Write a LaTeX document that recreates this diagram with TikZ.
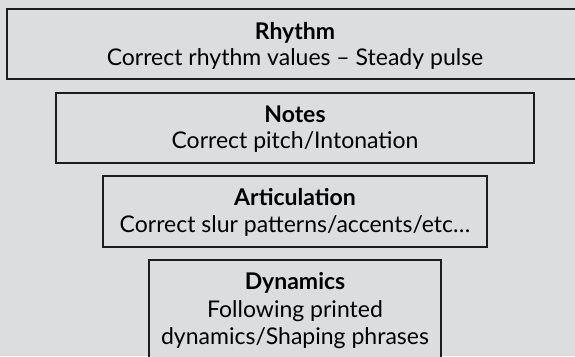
\documentclass[tikz,border=0pt]{standalone}
\usepackage{fontspec}
\setmainfont{Lato}
\definecolor{bg}{RGB}{220,221,222}
\definecolor{edge}{RGB}{28,28,28}
\begin{document}
\begin{tikzpicture}[x=1pt,y=-1pt,
  panel/.style={draw=edge, line width=1.2pt, fill=bg, inner sep=0pt},
  head/.style={anchor=base, inner sep=0pt, font=\fontsize{23}{26}\selectfont\bfseries},
  body/.style={anchor=base, inner sep=0pt, font=\fontsize{23}{26}\selectfont}]
% page background and fixed frame
\fill[bg] (0,0) rectangle (575,356);
\useasboundingbox (0,0) rectangle (575,356);

% Stacked boxes, narrowing downward
\node[panel, minimum width=576pt, minimum height=70pt] (rhythm) at (295,44) {};
\node[panel, minimum width=478pt, minimum height=70pt] (notes) at (295,128) {};
\node[panel, minimum width=384pt, minimum height=71pt] (artic) at (295,211.5) {};
\node[panel, minimum width=292pt, minimum height=110pt] (dyn) at (295,315) {};

% Box texts
\node[head] (rhythmT) at (295,39) {Rhythm};
\node[body] (rhythmB) at (295,65) {Correct rhythm values – Steady pulse};

\node[head] (notesT) at (295,122) {Notes};
\node[body] (notesB) at (295,148) {Correct pitch/Intonation};

\node[head] (articT) at (295,205) {Articulation};
\node[body] (articB) at (295,232) {Correct slur patterns/accents/etc…};

\node[head] (dynT) at (295,289) {Dynamics};
\node[body] (dynB1) at (295,317) {Following printed};
\node[body] (dynB2) at (295,344) {dynamics/Shaping phrases};
\end{tikzpicture}
\end{document}
